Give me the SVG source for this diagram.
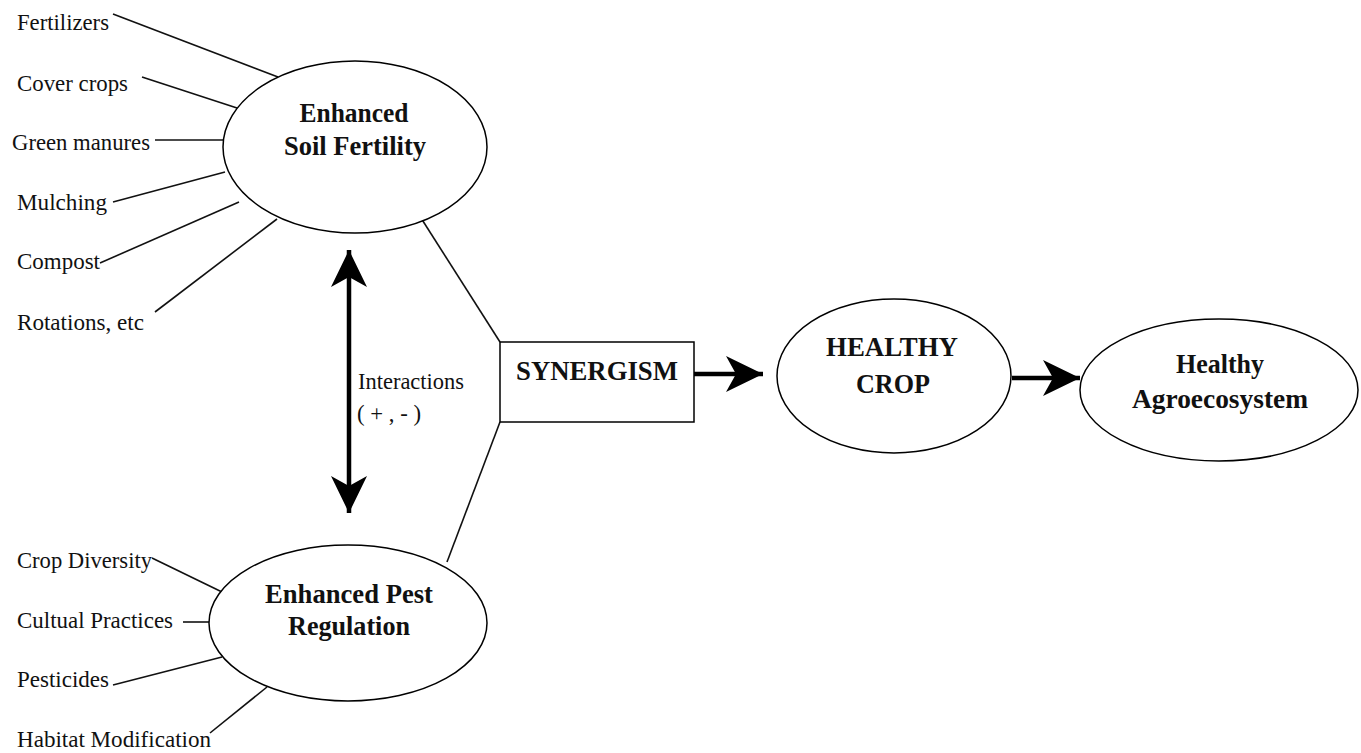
<svg xmlns="http://www.w3.org/2000/svg" width="1361" height="753" viewBox="0 0 1361 753">
<style>
.bg{fill:#ffffff}
.node{fill:#ffffff;stroke:#000;stroke-width:1.5}
.lbl{font-family:"Liberation Serif","Times New Roman",serif;font-size:24px;fill:#111}
.title{font-family:"Liberation Serif","Times New Roman",serif;font-size:28px;font-weight:bold;fill:#111;text-anchor:middle}
.thin{stroke:#111;stroke-width:1.6;fill:none}
.thick{stroke:#000;stroke-width:4.5;fill:none}
</style>
<defs>
<marker id="head" viewBox="-40 -20 42 40" refX="0" refY="0" markerWidth="42" markerHeight="40" markerUnits="userSpaceOnUse" orient="auto-start-reverse">
<path d="M0,0 L-37,-18 L-27,0 L-37,18 Z" fill="#000"/>
</marker>
</defs>
<rect class="bg" x="0" y="0" width="1361" height="753"/>

<g id="connectors">
<line class="thin" x1="113" y1="14" x2="278" y2="77"/>
<line class="thin" x1="142" y1="77" x2="237" y2="108"/>
<line class="thin" x1="155" y1="140" x2="223" y2="140"/>
<line class="thin" x1="113" y1="202" x2="225" y2="172"/>
<line class="thin" x1="100" y1="263" x2="239" y2="202"/>
<line class="thin" x1="155" y1="312" x2="277" y2="219"/>
<line class="thin" x1="152" y1="558" x2="222" y2="592"/>
<line class="thin" x1="183" y1="622" x2="209" y2="622"/>
<line class="thin" x1="113" y1="685" x2="222" y2="657"/>
<line class="thin" x1="210" y1="733" x2="267" y2="687"/>
<line class="thin" x1="421" y1="218" x2="500" y2="342"/>
<line class="thin" x1="500" y1="422" x2="447" y2="562"/>
<line class="thick" x1="349" y1="250" x2="349" y2="513" marker-start="url(#head)" marker-end="url(#head)"/>
<line class="thick" x1="694" y1="374" x2="763" y2="374" marker-end="url(#head)"/>
<line class="thick" x1="1012" y1="378" x2="1080" y2="378" marker-end="url(#head)"/>
<text class="lbl" x="358" y="389" textLength="106" lengthAdjust="spacingAndGlyphs">Interactions</text>
<text class="lbl" x="357" y="421" textLength="64" lengthAdjust="spacingAndGlyphs">( + , - )</text>
</g>

<g id="soil-fertility">
<ellipse class="node" cx="355" cy="147" rx="132" ry="86"/>
<text class="title" x="354" y="122" textLength="109" lengthAdjust="spacingAndGlyphs">Enhanced</text>
<text class="title" x="355" y="155" textLength="142" lengthAdjust="spacingAndGlyphs">Soil Fertility</text>
</g>

<g id="soil-inputs">
<text class="lbl" x="17" y="30" textLength="92" lengthAdjust="spacingAndGlyphs">Fertilizers</text>
<text class="lbl" x="17" y="91" textLength="111" lengthAdjust="spacingAndGlyphs">Cover crops</text>
<text class="lbl" x="12" y="150" textLength="138" lengthAdjust="spacingAndGlyphs">Green manures</text>
<text class="lbl" x="17" y="210" textLength="90" lengthAdjust="spacingAndGlyphs">Mulching</text>
<text class="lbl" x="17" y="269" textLength="83" lengthAdjust="spacingAndGlyphs">Compost</text>
<text class="lbl" x="17" y="330" textLength="127" lengthAdjust="spacingAndGlyphs">Rotations, etc</text>
</g>

<g id="pest-regulation">
<ellipse class="node" cx="348" cy="623" rx="139" ry="78"/>
<text class="title" x="349" y="603" textLength="168" lengthAdjust="spacingAndGlyphs">Enhanced Pest</text>
<text class="title" x="349" y="635" textLength="122" lengthAdjust="spacingAndGlyphs">Regulation</text>
</g>

<g id="pest-inputs">
<text class="lbl" x="17" y="568" textLength="135" lengthAdjust="spacingAndGlyphs">Crop Diversity</text>
<text class="lbl" x="17" y="628" textLength="156" lengthAdjust="spacingAndGlyphs">Cultual Practices</text>
<text class="lbl" x="17" y="687" textLength="92" lengthAdjust="spacingAndGlyphs">Pesticides</text>
<text class="lbl" x="17" y="747" textLength="194" lengthAdjust="spacingAndGlyphs">Habitat Modification</text>
</g>

<g id="synergism">
<rect class="node" x="500" y="342" width="194" height="80"/>
<text class="title" x="597" y="380" textLength="162" lengthAdjust="spacingAndGlyphs">SYNERGISM</text>
</g>

<g id="healthy-crop">
<ellipse class="node" cx="894" cy="376" rx="117" ry="77"/>
<text class="title" x="892" y="356" textLength="132" lengthAdjust="spacingAndGlyphs">HEALTHY</text>
<text class="title" x="893" y="393" textLength="74" lengthAdjust="spacingAndGlyphs">CROP</text>
</g>

<g id="healthy-agroecosystem">
<ellipse class="node" cx="1219" cy="390" rx="139" ry="71"/>
<text class="title" x="1220" y="373" textLength="88" lengthAdjust="spacingAndGlyphs">Healthy</text>
<text class="title" x="1220" y="408" textLength="176" lengthAdjust="spacingAndGlyphs">Agroecosystem</text>
</g>
</svg>
